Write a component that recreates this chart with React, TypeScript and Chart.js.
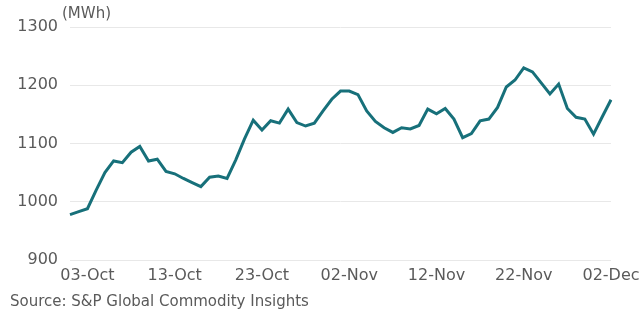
import React, { useEffect, useRef } from "react";
import { Chart, registerables } from "chart.js";

Chart.register(...registerables);

const dates = [
  "01-Oct", "02-Oct", "03-Oct", "04-Oct", "05-Oct", "06-Oct", "07-Oct", "08-Oct", "09-Oct", "10-Oct",
  "11-Oct", "12-Oct", "13-Oct", "14-Oct", "15-Oct", "16-Oct", "17-Oct", "18-Oct", "19-Oct", "20-Oct",
  "21-Oct", "22-Oct", "23-Oct", "24-Oct", "25-Oct", "26-Oct", "27-Oct", "28-Oct", "29-Oct", "30-Oct",
  "31-Oct", "01-Nov", "02-Nov", "03-Nov", "04-Nov", "05-Nov", "06-Nov", "07-Nov", "08-Nov", "09-Nov",
  "10-Nov", "11-Nov", "12-Nov", "13-Nov", "14-Nov", "15-Nov", "16-Nov", "17-Nov", "18-Nov", "19-Nov",
  "20-Nov", "21-Nov", "22-Nov", "23-Nov", "24-Nov", "25-Nov", "26-Nov", "27-Nov", "28-Nov", "29-Nov",
  "30-Nov", "01-Dec", "02-Dec",
];

const values = [
  978, 983, 988, 1020, 1050, 1070, 1067, 1085, 1095, 1070,
  1073, 1052, 1048, 1040, 1033, 1026, 1042, 1044, 1040, 1072,
  1108, 1140, 1123, 1139, 1135, 1159, 1136, 1130, 1135, 1156,
  1176, 1190, 1190, 1184, 1156, 1138, 1127, 1119, 1127, 1125,
  1131, 1159, 1151, 1160, 1142, 1110, 1117, 1139, 1142, 1162,
  1197, 1209, 1230, 1223, 1204, 1185, 1202, 1160, 1145, 1142,
  1116, 1146, 1175,
];

const xTickLabels = ["03-Oct", "13-Oct", "23-Oct", "02-Nov", "12-Nov", "22-Nov", "02-Dec"];
const yTicks = [900, 1000, 1100, 1200, 1300];

const unitLabel = "(MWh)";
const sourceLabel = "Source: S&P Global Commodity Insights";

const FONT = "'DejaVu Sans', sans-serif";
const TEXT = "#5a5a5a";

export default function App() {
  const ref = useRef<HTMLCanvasElement | null>(null);

  useEffect(() => {
    if (!ref.current) return;
    const chart = new Chart(ref.current, {
      type: "line",
      data: {
        labels: dates,
        datasets: [
          {
            data: values,
            borderColor: "#17707a",
            borderWidth: 3,
            pointRadius: 0,
            tension: 0,
            fill: false,
          },
        ],
      },
      options: {
        animation: false,
        responsive: false,
        maintainAspectRatio: false,
        layout: { padding: { top: 27, right: 29, bottom: 0, left: 0 } },
        plugins: { legend: { display: false }, tooltip: { enabled: false }, title: { display: false } },
        scales: {
          x: {
            type: "category",
            offset: false,
            grid: { display: false, drawTicks: false },
            border: { display: false },
            afterFit: (s: any) => {
              s.height = 53;
              s.paddingLeft = 0;
              s.paddingRight = 0;
            },
            ticks: {
              autoSkip: false,
              maxRotation: 0,
              minRotation: 0,
              padding: 6,
              color: TEXT,
              font: { family: FONT, size: 16 },
              callback: function (this: any, _v: any, i: number) {
                const l = dates[i];
                return xTickLabels.includes(l) ? l : null;
              },
            },
          },
          y: {
            min: yTicks[0],
            max: yTicks[yTicks.length - 1],
            afterBuildTicks: (s: any) => {
              s.ticks = yTicks.map((v) => ({ value: v }));
            },
            afterFit: (s: any) => {
              s.width = 70;
              s.paddingTop = 0;
              s.paddingBottom = 0;
            },
            grid: { color: "#e8e8e8", lineWidth: 1, drawTicks: false },
            border: { display: false },
            ticks: {
              padding: 12,
              color: TEXT,
              font: { family: FONT, size: 16 },
              callback: (v: any) => String(v),
            },
          },
        },
      },
    });
    return () => chart.destroy();
  }, []);

  return (
    <div style={{ position: "fixed", left: 0, top: 0, width: 640, height: 313, background: "#fff" }}>
      <canvas ref={ref} width={640} height={313} style={{ position: "absolute", left: 0, top: 0 }} />
      <div
        style={{
          position: "absolute",
          left: 62,
          top: 4,
          fontFamily: FONT,
          fontSize: 15,
          color: TEXT,
          lineHeight: "18px",
        }}
      >
        {unitLabel}
      </div>
      <div
        style={{
          position: "absolute",
          left: 10,
          top: 292,
          fontFamily: FONT,
          fontSize: 15,
          color: TEXT,
          lineHeight: "18px",
          whiteSpace: "nowrap",
        }}
      >
        {sourceLabel}
      </div>
    </div>
  );
}
